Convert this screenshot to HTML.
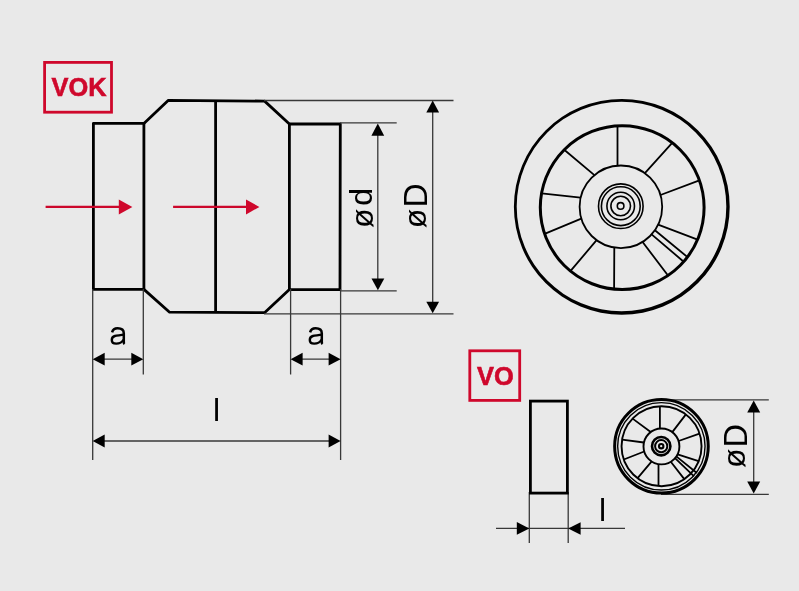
<!DOCTYPE html>
<html><head><meta charset="utf-8">
<style>
html,body{margin:0;padding:0;background:#e9e9e9;}
body{width:799px;height:591px;overflow:hidden;}
svg{display:block;will-change:transform;}
text{font-family:"Liberation Sans",sans-serif;}
</style></head>
<body>
<svg width="799" height="591" viewBox="0 0 799 591">
<rect x="0" y="0" width="799" height="591" fill="#e9e9e9"/>
<!-- VOK label -->
<rect x="44.6" y="62.4" width="66.9" height="49.8" fill="none" stroke="#cf082c" stroke-width="2.8"/>
<text transform="translate(79,96.2) scale(0.97,1)" font-size="26.2" font-weight="bold" fill="#cf082c" stroke="#cf082c" stroke-width="0.6" text-anchor="middle">VOK</text>

<!-- main side view -->
<g fill="none" stroke="#000" stroke-width="2.8" stroke-linejoin="round">
<path d="M93.4,123.4 H143.9 V289.4 H93.4 Z"/>
<path d="M143.9,123.4 L168.4,100.3 L264.6,101.1 L289.4,124 V289.6 L264.8,312.6 L169.6,312.2 L143.9,289.4"/>
<path d="M289.4,124 H340.3 L340,289.6 H289.4"/>
<path d="M215.6,100.6 V312.4"/>
</g>

<!-- thin dimension lines -->
<g fill="none" stroke="#383838" stroke-width="1.3">
<path d="M264,100.5 H453.5 M340,122.9 H396.7 M340,290.9 H396.7 M264,313.8 H453.5"/>
<path d="M377.8,130 V283 M432.7,107 V306"/>
<path d="M92.7,289 V460 M143.3,289 V374.6 M290.6,289 V374.6 M340.6,289 V460"/>
<path d="M100,359.2 H136 M297,359.2 H334 M100,441 H334"/>
<path d="M529.3,492 V543 M568.2,492 V543 M496,528.4 H625"/>
<path d="M661,399.8 H768.8 M661,494.3 H768.8 M753.7,407 V487"/>
</g>
<g fill="#000">
<polygon points="377.8,123.6 371.4,135.8 384.2,135.8"/>
<polygon points="377.9,290.2 371.5,278.4 384.3,278.4"/>
<polygon points="432.7,100.6 426.3,112.4 439.1,112.4"/>
<polygon points="432.7,313.3 426.3,301.7 439.1,301.7"/>
<polygon points="92.7,359.2 104.7,352.8 104.7,365.6"/>
<polygon points="143.3,359.2 131.3,352.8 131.3,365.6"/>
<polygon points="290.6,359.2 302.6,352.8 302.6,365.6"/>
<polygon points="340.6,359.2 328.6,352.8 328.6,365.6"/>
<polygon points="92.7,441 104.7,434.6 104.7,447.4"/>
<polygon points="340.6,441 328.6,434.6 328.6,447.4"/>
<polygon points="529.3,528.4 516.8,522.1 516.8,534.7"/>
<polygon points="568.2,528.4 580.6,522.2 580.6,534.8"/>
<polygon points="753.7,400.6 747.2,412.4 760.2,412.4"/>
<polygon points="753.7,493.6 747.2,481.6 760.2,481.6"/>
</g>

<!-- red arrows -->
<g stroke="#cc072b" stroke-width="2.4" fill="none">
<path d="M45.6,206.9 H120 M173.1,206.9 H247"/>
</g>
<g fill="#cf082c">
<polygon points="118.8,199.4 132.4,206.9 118.8,214.4"/>
<polygon points="246,199.4 259.4,206.9 246,214.5"/>
</g>

<!-- texts -->
<g fill="none" stroke="#000" stroke-width="2.5">
<path d="M112.1,332.4 C112.8,329.6 114.8,328.3 117.6,328.3 C121.5,328.3 123.8,330 123.8,333.2 L123.8,342.4 C123.8,343.1 124,343.5 124.6,344"/>
<path stroke-width="2.4" d="M123.8,334.7 C121,335.3 117.2,335.5 114.9,336 C112.7,336.6 111.8,338 111.8,339.9 C111.8,342.2 113.4,343.6 116.2,343.6 C119.6,343.6 122.4,341.8 123.8,339.5"/>
</g>
<g fill="none" stroke="#000" stroke-width="2.5" transform="translate(198,0)">
<path d="M112.1,332.4 C112.8,329.6 114.8,328.3 117.6,328.3 C121.5,328.3 123.8,330 123.8,333.2 L123.8,342.4 C123.8,343.1 124,343.5 124.6,344"/>
<path stroke-width="2.4" d="M123.8,334.7 C121,335.3 117.2,335.5 114.9,336 C112.7,336.6 111.8,338 111.8,339.9 C111.8,342.2 113.4,343.6 116.2,343.6 C119.6,343.6 122.4,341.8 123.8,339.5"/>
</g>
<g font-size="32" fill="#000" text-anchor="middle">
<text x="216.6" y="420.9">l</text>
<text x="602.5" y="520.7">l</text>
<text transform="translate(372.5,208) rotate(-90)">ø<tspan dx="2.9" dy="-1">d</tspan></text>
<text transform="translate(426.2,205.9) rotate(-90)">ø<tspan dx="1.2" dy="0.3" font-size="33.5">D</tspan></text>
<text transform="translate(745.4,446) rotate(-90)">ø<tspan dx="0.9" dy="1.8" font-size="32.5">D</tspan></text>
</g>

<!-- big fan -->
<g fill="none" stroke="#000">
<path fill="#000" stroke="none" fill-rule="evenodd" d="M513.90,206.80 a107.90,107.90 0 1,0 215.80,0 a107.90,107.90 0 1,0 -215.80,0 Z M516.70,206.50 a104.80,104.80 0 1,0 209.60,0 a104.80,104.80 0 1,0 -209.60,0 Z"/>
<circle cx="622.2" cy="207.6" r="81.9" stroke-width="3"/>
<circle cx="620.9" cy="206.8" r="41.3" stroke-width="1.8"/>
<g stroke-width="1.6">
<circle cx="620.8" cy="206.2" r="22.3"/>
<circle cx="620.8" cy="206.2" r="19.4"/>
<circle cx="620.7" cy="206" r="13.8"/>
<circle cx="620.7" cy="206" r="9.8"/>
<circle cx="620.6" cy="205.9" r="3.3"/>
</g>
<path stroke-width="1.8" d="M617.5,125.8 L617.5,165.6 M672.2,142.8 L644.9,173.2 M699.4,180.4 L660.5,195.0 M697.6,239.7 L658.1,224.7 M687.5,257.1 L654.9,230.3 M683.7,261.7 L651.6,234.4 M668.0,275.5 L642.6,242.0 M614.1,289.1 L614.3,247.6 M570.4,271.1 L596.6,240.2 M544.6,233.8 L581.3,218.7 M541.6,193.3 L580.6,197.6 M564.2,149.8 L594.4,175.1"/>
</g>

<!-- VO label -->
<rect x="469.8" y="350.8" width="49.9" height="49.6" fill="none" stroke="#cf082c" stroke-width="2.8"/>
<text transform="translate(495.3,384.8) scale(0.97,1)" font-size="26.2" font-weight="bold" fill="#cf082c" stroke="#cf082c" stroke-width="0.6" text-anchor="middle">VO</text>

<!-- small rect -->
<rect x="530.4" y="401.1" width="37" height="92" fill="none" stroke="#000" stroke-width="2.8"/>

<!-- small fan -->
<g fill="none" stroke="#000">
<circle cx="661.45" cy="446.3" r="46.8" stroke-width="3"/>
<circle cx="661.35" cy="446.3" r="43.7" stroke-width="1.4"/>
<circle cx="661.55" cy="446.2" r="40" stroke-width="1.9"/>
<circle cx="661.45" cy="446.4" r="17.95" stroke-width="1.9"/>
<circle cx="661.2" cy="446.2" r="9.2" stroke-width="2.6"/>
<circle cx="661.2" cy="446.2" r="6.1" stroke-width="2"/>
<circle cx="661.2" cy="446.2" r="2.2" stroke-width="2.1"/>
<path stroke-width="1.8" d="M659.9,406.2 L659.9,428.5 M685.9,414.4 L672.3,432.1 M699.5,433.6 L678.6,441.0 M698.6,461.2 L677.6,454.3 M696.9,473.0 L676.3,456.4 M694.1,476.3 L675.0,458.1 M684.3,479.1 L670.8,461.7 M658.5,486.1 L658.5,464.1 M637.6,478.2 L651.7,461.4 M623.8,459.5 L644.2,451.5 M622.1,439.7 L643.9,442.5 M632.6,418.6 L650.7,432.0"/>
</g>
</svg>
</body></html>
